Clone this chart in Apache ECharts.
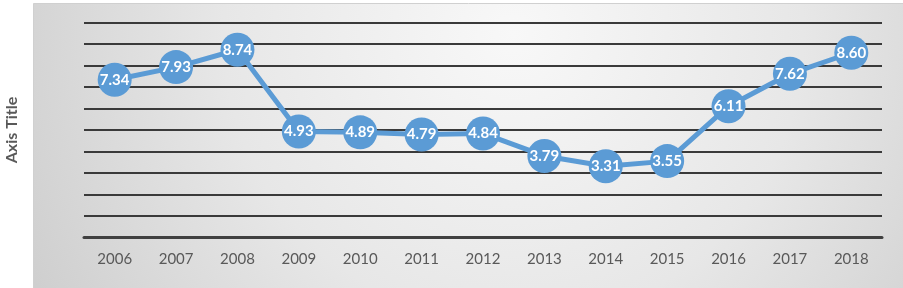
<!DOCTYPE html>
<html><head><meta charset="utf-8">
<script src="https://cdn.jsdelivr.net/npm/echarts@6/dist/echarts.min.js"></script>
<style>html,body{margin:0;padding:0;background:#fff}#c{width:903px;height:288px}</style>
</head><body><div id="c"></div>
<script>
const categories = ['2006','2007','2008','2009','2010','2011','2012','2013','2014','2015','2016','2017','2018'];
const values = [7.34, 7.93, 8.74, 4.93, 4.89, 4.79, 4.84, 3.79, 3.31, 3.55, 6.11, 7.62, 8.60];
const yMin = 0, yMax = 10, yInterval = 1;
const axisTitle = 'Axis Title';

const chart = echarts.init(document.getElementById('c'), null, {renderer: 'canvas'});
chart.setOption({
  animation: false,
  graphic: [{
    type: 'rect', z: -10, left: 33, top: 3,
    shape: {width: 870, height: 285},
    style: {
      fill: new echarts.graphic.RadialGradient(480, 30, 580, [
        {offset: 0, color: '#f8f8f8'},
        {offset: 0.5, color: '#e7e7e7'},
        {offset: 1, color: '#cbcbcb'}
      ], true),
      stroke: '#d0d0d0', lineWidth: 1
    }
  }],
  grid: {left: 84, right: 21, top: 22.7, bottom: 50.7, containLabel: false, outerBoundsMode: 'none'},
  xAxis: {
    type: 'category', data: categories, boundaryGap: true,
    axisLine: {show: true, lineStyle: {color: '#404040', width: 3}},
    axisTick: {show: false},
    axisLabel: {color: '#595959', fontSize: 15, fontFamily: 'Lato', margin: 14}
  },
  yAxis: {
    type: 'value', min: yMin, max: yMax, interval: yInterval,
    name: axisTitle, nameLocation: 'middle', nameGap: 64, nameRotate: 90,
    nameTextStyle: {color: '#595959', fontSize: 16, fontWeight: 'bold', fontFamily: 'Lato'},
    axisLabel: {show: false}, axisLine: {show: false}, axisTick: {show: false},
    splitLine: {lineStyle: {color: '#3a3a3a', width: 2}}
  },
  series: [{
    type: 'line', data: values,
    symbol: 'circle', symbolSize: 34,
    lineStyle: {color: '#5B9BD5', width: 5},
    itemStyle: {color: '#5B9BD5'},
    label: {show: true, position: 'inside', color: '#ffffff', fontSize: 15, fontWeight: 'bold', fontFamily: 'Lato',
      formatter: p => p.value.toFixed(2)}
  }]
});
</script></body></html>
